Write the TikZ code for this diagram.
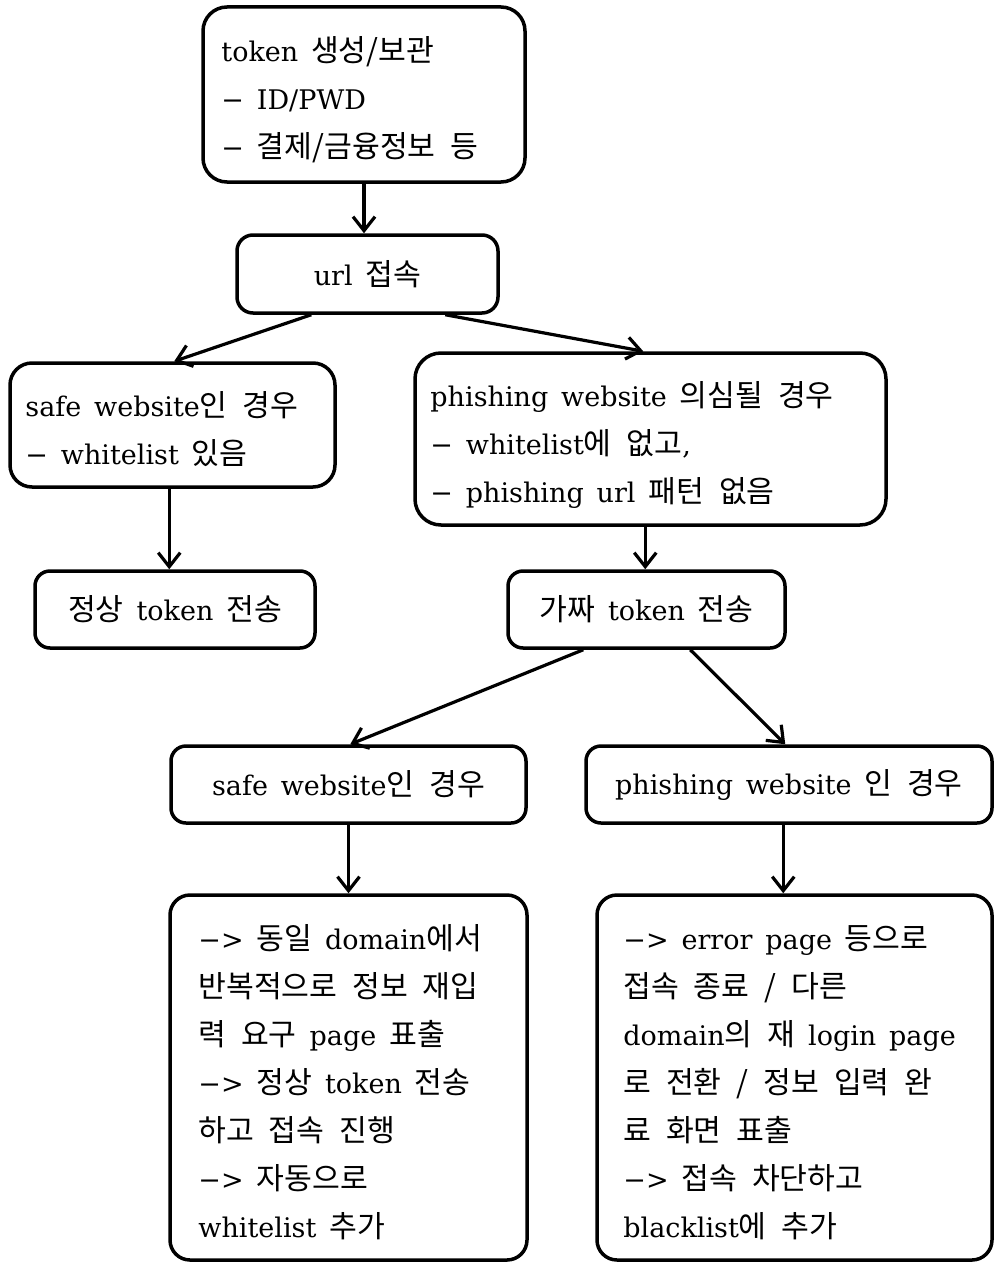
\documentclass[tikz,border=0pt]{standalone}
\usepackage{fontspec}
\setmainfont{DejaVu Serif}[WordSpace=1.5]
\newfontfamily\krfont{Noto Sans CJK KR}[Scale=1.12,WordSpace=2.2]
\newcommand\K[1]{{\krfont #1}}
\usetikzlibrary{arrows.meta,calc}
\begin{document}
\begin{tikzpicture}[x=1pt,y=-1pt,
  box/.style={draw,line width=3.5pt,rounded corners=#1,inner sep=0pt,
    font=\fontsize{27}{48}\selectfont},
  box/.default=15pt,
  lbl/.style={font=\fontsize{27}{48}\selectfont,align=left,inner sep=0pt,anchor=west},
  arr/.style={line width=3.2pt,-{Straight Barb[length=14pt,width=22pt,line width=3.2pt]}}]
\useasboundingbox (0,0) rectangle (993,1263);

% boxes
\node[box=24pt,minimum width=322pt,minimum height=175pt] (b1) at (364,94.5) {};
\node[box=16pt,minimum width=261pt,minimum height=78pt] (b2) at (367.5,274) {url \K{접속}};
\node[box=22pt,minimum width=325pt,minimum height=124pt] (b3) at (172.5,425) {};
\node[box=26pt,minimum width=471pt,minimum height=172pt] (b4) at (650.5,439) {};
\node[box,minimum width=280pt,minimum height=77pt] (b5) at (175,609.5) {\K{정상} token \K{전송}};
\node[box,minimum width=277pt,minimum height=77pt] (b6) at (646.5,609.5) {\K{가짜} token \K{전송}};
\node[box,minimum width=355pt,minimum height=77pt] (b7) at (348.5,784.5) {safe website\K{인 경우}};
\node[box,minimum width=406pt,minimum height=77pt] (b8) at (789,784.5) {phishing website \K{인 경우}};
\node[box=20pt,minimum width=357pt,minimum height=365pt] (b9) at (348.5,1077.5) {};
\node[box=20pt,minimum width=395pt,minimum height=365pt] (b10) at (794.5,1077.5) {};

% multi-line texts
\node[lbl] (t1) at ($(b1.west)+(20,5.5)$)
  {token \K{생성/보관}\\ − ID/PWD\\ − \K{결제/금융정보 등}};
\node[lbl] (t3) at ($(b3.west)+(17,4)$)
  {safe website\K{인 경우}\\ − whitelist \K{있음}};
\node[lbl] (t4) at ($(b4.west)+(17,6)$)
  {phishing website \K{의심될 경우}\\ − whitelist\K{에 없고},\\ − phishing url \K{패턴 없음}};
\node[lbl] (t9) at ($(b9.west)+(30,5)$)
  {−> \K{동일} domain\K{에서}\\ \K{반복적으로 정보 재입}\\ \K{력 요구} page \K{표출}\\
   −> \K{정상} token \K{전송}\\ \K{하고 접속 진행}\\ −> \K{자동으로}\\ whitelist \K{추가}};
\node[lbl] (t10) at ($(b10.west)+(28,5.5)$)
  {−> error page \K{등으로}\\ \K{접속 종료 / 다른}\\ domain\K{의 재} login page\\
   \K{로 전환 / 정보 입력 완}\\ \K{료 화면 표출}\\ −> \K{접속 차단하고}\\ blacklist\K{에 추가}};

% connectors
\draw[arr] (b1.south) -- (b1.south |- b2.north);
\draw[arr] ($(b2.south west)+(76,0)$) -- ($(b3.north west)+(166,0)$);
\draw[arr] ($(b2.south west)+(210,0)$) -- ($(b4.north west)+(230,0)$);
\draw[arr] ($(b3.south west)+(161,0)$) -- ($(b5.north west)+(136,0)$);
\draw[arr] ($(b4.south west)+(232,0)$) -- ($(b6.north west)+(139,0)$);
\draw[arr] ($(b6.south west)+(77,0)$) -- ($(b7.north west)+(181,0)$);
\draw[arr] ($(b6.south west)+(184,0)$) -- ($(b8.north west)+(201,0)$);
\draw[arr] (b7.south) -- (b7.south |- b9.north);
\draw[arr] ($(b8.south west)+(199,0)$) -- ($(b10.north west)+(188,0)$);
\end{tikzpicture}
\end{document}
